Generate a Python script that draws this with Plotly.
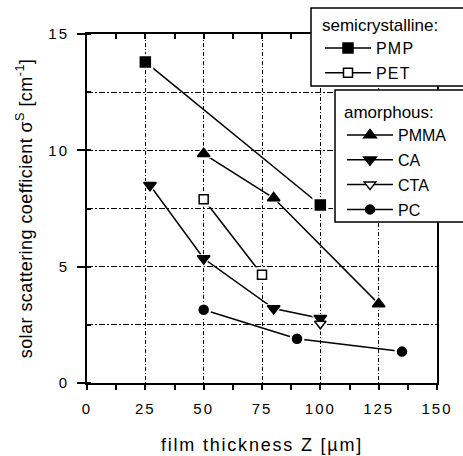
import plotly.graph_objects as go

# ---- data ----
pmp_z = [25, 100]
pmp_s = [13.8, 7.65]
pet_z = [50, 75]
pet_s = [7.9, 4.65]
pmma_z = [50, 80, 125]
pmma_s = [9.85, 7.95, 3.4]
ca_z = [27, 50, 80, 100]
ca_s = [8.5, 5.35, 3.2, 2.78]
cta_z = [100]
cta_s = [2.55]
pc_z = [50, 90, 135]
pc_s = [3.15, 1.9, 1.35]

x_tickvals = [0, 25, 50, 75, 100, 125, 150]
y_tickvals = [0, 5, 10, 15]

FONT = "Liberation Sans, Arial, sans-serif"

series = [
    # name, x, y, symbol, size, fill, legend
    ("PMP", pmp_z, pmp_s, "square", 10, "black", "legend"),
    ("PET", pet_z, pet_s, "square", 9, "white", "legend"),
    ("PMMA", pmma_z, pmma_s, "triangle-up", 11, "black", "legend2"),
    ("CA", ca_z, ca_s, "triangle-down", 11, "black", "legend2"),
    ("CTA", cta_z, cta_s, "triangle-down", 10, "white", "legend2"),
    ("PC", pc_z, pc_s, "circle", 9, "black", "legend2"),
]

fig = go.Figure()

for name, xs, ys, sym, size, fill, leg in series:
    fig.add_trace(go.Scatter(x=xs, y=ys, mode="lines",
                             line=dict(color="black", width=1.5),
                             showlegend=False, hoverinfo="skip"))
for name, xs, ys, sym, size, fill, leg in series:
    fig.add_trace(go.Scatter(x=xs, y=ys, mode="markers",
                             marker=dict(symbol=sym, size=size + 6, color="white",
                                         line=dict(width=0)),
                             showlegend=False, hoverinfo="skip"))
for name, xs, ys, sym, size, fill, leg in series:
    fig.add_trace(go.Scatter(x=xs, y=ys, mode="markers", name=name,
                             marker=dict(symbol=sym, size=size, color=fill,
                                         line=dict(color="black", width=1.5)),
                             showlegend=False))
for name, xs, ys, sym, size, fill, leg in series:
    fig.add_trace(go.Scatter(x=[None], y=[None], mode="lines+markers", name=name,
                             legend=leg, legendgroup=name,
                             line=dict(color="black", width=1.5),
                             marker=dict(symbol=sym, size=size, color=fill,
                                         line=dict(color="black", width=1.5))))

fig.add_trace(go.Scatter(x=[None], y=[None], xaxis="x2", showlegend=False))

W, H = 463, 456
ML, MR, MT, MB = 87, 26, 34, 73
PW, PH = W - ML - MR, H - MT - MB


def px_x(fx):
    return (fx - ML) / PW


def px_y(fy):
    return (H - MB - fy) / PH


def open_box(left, top, bottom, right=480):
    # box frame whose right side runs off the page (left, top and bottom edges only)
    x0, x1 = px_x(left), px_x(right)
    y0, y1 = px_y(bottom), px_y(top)
    return f"M {x1:.4f},{y0:.4f} L {x0:.4f},{y0:.4f} L {x0:.4f},{y1:.4f} L {x1:.4f},{y1:.4f}"


shapes = [dict(type="path", xref="paper", yref="paper", layer="above",
               fillcolor="white", line=dict(color="black", width=1.5), path=p)
          for p in (open_box(311, 8, 86), open_box(335, 90, 222))]

fig.update_layout(
    width=W, height=H,
    margin=dict(l=ML, r=MR, t=MT, b=MB, autoexpand=False),
    paper_bgcolor="white", plot_bgcolor="white",
    font=dict(family=FONT, color="black", size=15),
    shapes=shapes,
    xaxis=dict(
        range=[0, 150], tickvals=x_tickvals,
        ticks="outside", ticklen=5, tickwidth=1.5, tickcolor="black",
        showline=True, linecolor="black", linewidth=2, mirror=True,
        showgrid=True, gridcolor="black", gridwidth=1.3, griddash="4px,2px,1px,2px",
        zeroline=False,
        tickfont=dict(size=15),
        ticklabelstandoff=6,
        minor=dict(dtick=12.5, ticks="outside", ticklen=5, tickwidth=1.5,
                   tickcolor="black", showgrid=False),
        title=dict(text="film thickness Z [µm]", font=dict(size=18), standoff=22),
    ),
    xaxis2=dict(
        range=[0, 150], overlaying="x", side="top", dtick=12.5, tick0=0,
        ticks="inside", ticklen=5, tickwidth=1.5, tickcolor="black",
        showticklabels=False, showgrid=False, zeroline=False, showline=False,
    ),
    yaxis=dict(
        range=[0, 15], tickvals=y_tickvals,
        ticks="outside", ticklen=8, tickwidth=1.5, tickcolor="black",
        showline=True, linecolor="black", linewidth=2, mirror=True,
        showgrid=True, gridcolor="black", gridwidth=1.3, griddash="6px,2px,2px,2px",
        zeroline=False,
        tickfont=dict(size=15),
        ticklabelstandoff=5,
        minor=dict(dtick=2.5, ticks="inside", ticklen=4, tickwidth=1.5,
                   tickcolor="black", showgrid=True, gridcolor="black",
                   gridwidth=1.3, griddash="6px,2px,2px,2px"),
        title=dict(text="solar scattering coefficient σ<sup>S</sup> [cm<sup>-1</sup>]",
                   font=dict(size=18), standoff=15),
    ),
    legend=dict(
        title=dict(text="semicrystalline:", font=dict(size=17)),
        font=dict(size=16), bgcolor="rgba(0,0,0,0)", borderwidth=0,
        x=320 / W, y=1 - 9 / H, xref="container", yref="container",
        xanchor="left", yanchor="top", itemwidth=46, tracegroupgap=1,
    ),
    legend2=dict(
        title=dict(text="amorphous:", font=dict(size=17)),
        font=dict(size=16), bgcolor="rgba(0,0,0,0)", borderwidth=0,
        x=342 / W, y=1 - 96 / H, xref="container", yref="container",
        xanchor="left", yanchor="top", itemwidth=46, tracegroupgap=1,
    ),
)

post = """
document.documentElement.style.margin = '0';
document.documentElement.style.overflow = 'hidden';
document.body.style.margin = '0';
document.body.style.overflow = 'hidden';
var gd = document.getElementById('{plot_id}');
function ls(sel, v) { gd.querySelectorAll(sel).forEach(function (e) { e.style.letterSpacing = v; }); }
ls('.xtick text', '2px');
ls('.ytick text', '2px');
ls('.xtitle', '1.8px');
ls('.ytitle', '0.45px');
ls('.legendtext', '1.2px');
"""

fig.write_html("out.html", post_script=post, config={"displayModeBar": False})
